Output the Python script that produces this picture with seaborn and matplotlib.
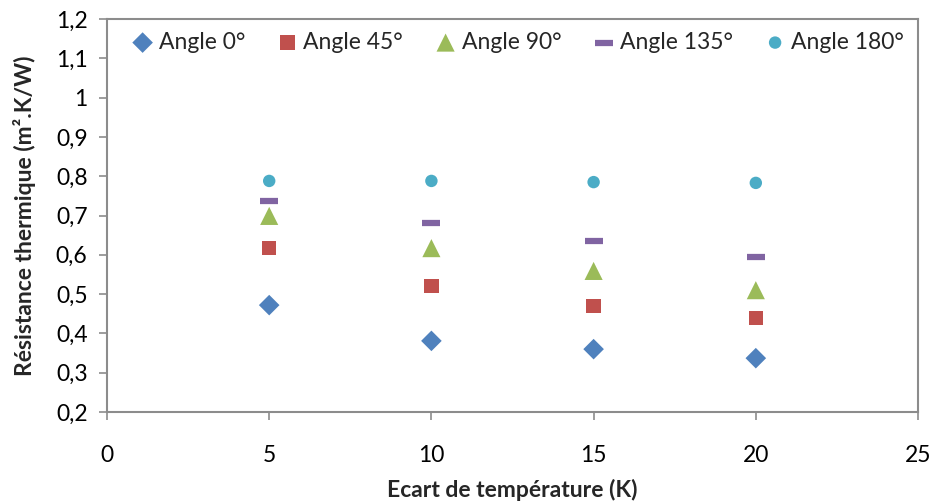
import matplotlib
matplotlib.use('Agg')
import matplotlib.pyplot as plt
import seaborn as sns
import pandas as pd

# Data
ecart = [5, 10, 15, 20]
angle_0 = [0.472, 0.381, 0.360, 0.337]
angle_45 = [0.617, 0.521, 0.470, 0.439]
angle_90 = [0.699, 0.617, 0.559, 0.510]
angle_135 = [0.737, 0.681, 0.635, 0.594]
angle_180 = [0.788, 0.788, 0.785, 0.783]

series_names = ['Angle 0°', 'Angle 45°', 'Angle 90°', 'Angle 135°', 'Angle 180°']
series_values = [angle_0, angle_45, angle_90, angle_135, angle_180]

sns.set_theme(style='white')
plt.rcParams['font.family'] = ['Lato', 'DejaVu Sans']

rows = []
for name, vals in zip(series_names, series_values):
    for x, y in zip(ecart, vals):
        rows.append({'ecart': x, 'resistance': y, 'serie': name})
df = pd.DataFrame(rows)

colors = ['#4F81BD', '#C0504D', '#9BBB59', '#8064A2', '#4BACC6']
markers = ['D', 's', '^', '_', 'o']
sizes = [110, 110, 170, 180, 80]

fig = plt.figure(figsize=(9.32, 5.04), dpi=100)
ax = fig.add_axes([0.1148, 0.1825, 0.8702, 0.7798])

for name, col, mk, sz in zip(series_names, colors, markers, sizes):
    sub = df[df['serie'] == name]
    kw = dict(marker=mk, s=sz, color=col, label=name, ax=ax)
    if mk == '_':
        kw.update(linewidth=4.5)
    else:
        kw.update(edgecolor='none')
    sns.scatterplot(data=sub, x='ecart', y='resistance', **kw)

ax.set_xlim(0, 25)
ax.set_ylim(0.2, 1.2)
ax.set_xticks(range(0, 26, 5))
yt = [0.2 + 0.1 * i for i in range(11)]
ax.set_yticks(yt)
ax.set_yticklabels([('%.1f' % v).replace('.', ',').replace('1,0', '1') for v in yt])

for s in ax.spines.values():
    s.set_color('#8c8c8c')
    s.set_linewidth(1.5)
ax.tick_params(axis='both', direction='out', length=6, width=1.2, color='#8c8c8c',
               labelsize=16.5, labelcolor='black', bottom=True, left=True)
ax.tick_params(axis='x', pad=18)
ax.tick_params(axis='y', pad=8)

ax.set_xlabel('Ecart de température (K)', fontsize=16.5, fontweight='bold', labelpad=9)
ax.set_ylabel('Résistance thermique (m².K/W)', fontsize=16.5, fontweight='bold', labelpad=14)

ax.legend(loc='upper left', bbox_to_anchor=(0.01, 1.0), ncol=5, frameon=False,
          fontsize=16.5, handletextpad=0.05, columnspacing=1.2, handlelength=1.3,
          borderaxespad=0.15)

fig.savefig('out.png', dpi=100)
